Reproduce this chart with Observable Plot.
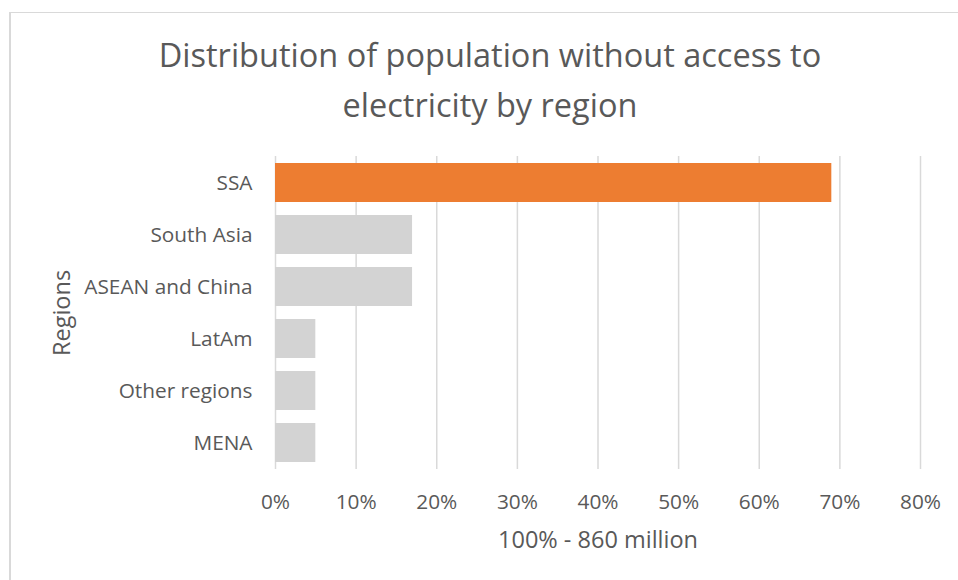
<!DOCTYPE html>
<html><head><meta charset="utf-8">
<script src="https://cdn.jsdelivr.net/npm/d3@7"></script>
<script src="https://cdn.jsdelivr.net/npm/@observablehq/plot@0.6"></script>
<style>
body{margin:0;background:#fff;font-family:"Open Sans",sans-serif;overflow:hidden;}
#frame{position:absolute;left:9px;top:12px;width:1000px;height:600px;border-left:2px solid #d9d9d9;border-top:1px solid #d9d9d9;box-sizing:border-box;}
#wrap{position:absolute;left:0;top:0;width:958px;}
#title{box-sizing:border-box;height:140px;padding-top:30px;margin-left:10px;width:960px;text-align:center;color:#595959;font-size:32.5px;line-height:50px;white-space:nowrap;}
</style></head>
<body>
<div id="frame"></div>
<div id="wrap">
<div id="title">Distribution of population without access to<br>electricity by region</div>
<div id="chart"></div>
</div>
<script>
const regions = ["SSA", "South Asia", "ASEAN and China", "LatAm", "Other regions", "MENA"];
const shares = [69, 17, 17, 5, 5, 5];
const xTicks = [0, 10, 20, 30, 40, 50, 60, 70, 80];
const highlight = "SSA";
const xLabel = "100% - 860 million";
const yLabel = "Regions";

const data = regions.map((r, i) => ({region: r, share: shares[i]}));

const chart = Plot.plot({
  width: 958,
  height: 440,
  marginLeft: 275,
  marginRight: 38,
  marginTop: 16,
  marginBottom: 111,
  style: {fontFamily: '"Open Sans", sans-serif', fontSize: "20.8px", color: "#595959", background: "transparent"},
  x: {domain: [0, 80]},
  y: {domain: regions, paddingInner: 0.25, paddingOuter: 0.125},
  marks: [
    Plot.gridX(xTicks, {stroke: "#d9d9d9", strokeWidth: 1.5, strokeOpacity: 1}),
    Plot.barX(data, {x: "share", y: "region", fill: d => d.region === highlight ? "#ED7D31" : "#D3D3D3"}),
    Plot.axisX(xTicks, {tickSize: 0, tickPadding: 25, tickFormat: d => d + "%", label: null, fontSize: 20.8}),
    Plot.axisY({tickSize: 0, tickPadding: 23, label: null, fontSize: 20.8}),
    Plot.text([xLabel], {frameAnchor: "bottom", dy: 71, lineAnchor: "middle", textAnchor: "middle", fontSize: 23.5, fill: "#595959"}),
    Plot.text([yLabel], {frameAnchor: "left", dx: -213, rotate: -90, lineAnchor: "middle", textAnchor: "middle", fontSize: 23.5, fill: "#595959"})
  ]
});
document.getElementById("chart").appendChild(chart);
</script>
</body></html>
